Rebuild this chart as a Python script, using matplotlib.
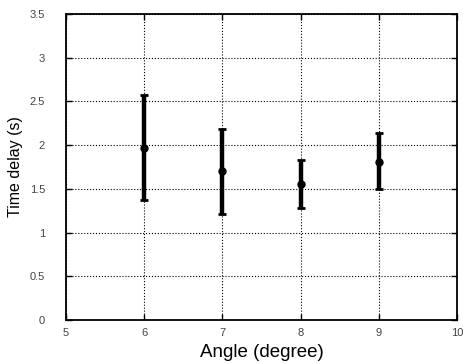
import matplotlib
matplotlib.use("Agg")
import matplotlib.pyplot as plt
import numpy as np

# data
angles = [6, 7, 8, 9]
delay_mean = [1.97, 1.70, 1.55, 1.81]
delay_low = [1.37, 1.21, 1.28, 1.50]
delay_high = [2.57, 2.18, 1.83, 2.14]

x_ticks = [5, 6, 7, 8, 9, 10]
y_ticks = [0, 0.5, 1, 1.5, 2, 2.5, 3, 3.5]
y_tick_labels = ["0", "0.5", "1", "1.5", "2", "2.5", "3", "3.5"]

plt.rcParams['font.family'] = ['Liberation Sans', 'DejaVu Sans']

fig = plt.figure(figsize=(4.63, 3.63), dpi=100)
ax = fig.add_axes([66 / 463, 1 - 320 / 363, (457 - 66) / 463, (320 - 14) / 363])

mean = np.array(delay_mean)
err = [mean - np.array(delay_low), np.array(delay_high) - mean]
ax.errorbar(angles, mean, yerr=err, fmt="o", color="black", ms=5,
            elinewidth=3.2, capsize=3.2, capthick=2, zorder=3)

ax.set_xlim(5, 10)
ax.set_ylim(0, 3.5)
ax.set_xticks(x_ticks)
ax.set_yticks(y_ticks)
ax.set_yticklabels(y_tick_labels)
ax.grid(True, color="black", linestyle=":", linewidth=0.8)
ax.tick_params(direction="in", length=4, width=1, labelsize=8,
               labelcolor="#444444", top=True, right=True)
ax.tick_params(axis="x", pad=6)
ax.tick_params(axis="y", pad=15)
for s in ax.spines.values():
    s.set_linewidth(1.3)

ax.set_xlabel("Angle (degree)", fontsize=13.5, labelpad=4)
ax.set_ylabel("Time delay (s)", fontsize=11.5, labelpad=5)

fig.savefig("out.png", dpi=100)
